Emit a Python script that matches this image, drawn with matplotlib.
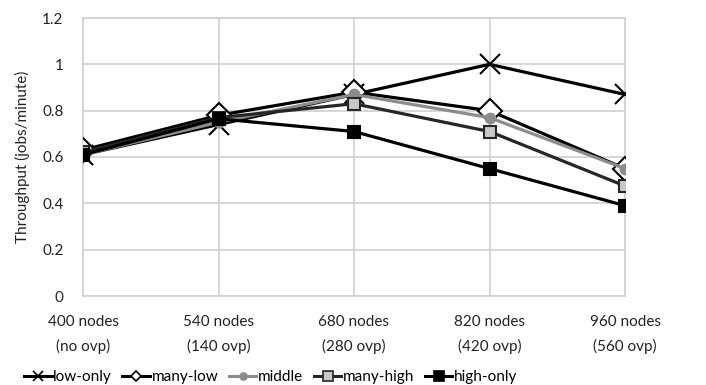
import matplotlib
matplotlib.use("Agg")
import matplotlib.pyplot as plt
from matplotlib.lines import Line2D

plt.rcParams['font.family'] = ['Lato', 'DejaVu Sans']

categories = ['400 nodes\n(no ovp)', '540 nodes\n(140 ovp)', '680 nodes\n(280 ovp)',
              '820 nodes\n(420 ovp)', '960 nodes\n(560 ovp)']
low_only = [0.61, 0.74, 0.87, 1.00, 0.87]
many_low = [0.63, 0.78, 0.88, 0.80, 0.55]
middle = [0.61, 0.75, 0.87, 0.77, 0.55]
many_high = [0.62, 0.77, 0.83, 0.71, 0.475]
high_only = [0.61, 0.765, 0.71, 0.55, 0.39]

x = range(len(categories))

fig = plt.figure(figsize=(7.06, 3.85), dpi=100)
ax = fig.add_axes([83/706, 89/385, 542/706, 278/385])

# series: (name, values, line color, marker, size, face, edge, legend marker size)
series = [
    ('low-only', low_only, 'black', 'x', 15, 'black', 'black', 7),
    ('many-low', many_low, 'black', 'D', 12, 'white', 'black', 5),
    ('middle', middle, '#8c8c8c', 'o', 7, '#8c8c8c', '#8c8c8c', 5),
    ('many-high', many_high, '#262626', 's', 9, '#c8c8c8', '#262626', 7),
    ('high-only', high_only, 'black', 's', 9, 'black', 'black', 7),
]

for name, vals, col, mk, ms, fc, ec, lms in series:
    ax.plot(x, vals, color=col, lw=2.3, marker=mk, markersize=ms,
            markerfacecolor=fc, markeredgecolor=ec, markeredgewidth=1.5,
            zorder=3)

ax.set_xlim(0, 4)
ax.set_ylim(0, 1.2)
ax.set_yticks([0, 0.2, 0.4, 0.6, 0.8, 1.0, 1.2])
ax.set_yticklabels(['0', '0.2', '0.4', '0.6', '0.8', '1', '1.2'])
ax.set_xticks(list(x))
ax.set_xticklabels(categories, linespacing=1.75)
ax.grid(True, color='#d0d0d0', lw=1.2)
ax.set_axisbelow(True)
for s in ax.spines.values():
    s.set_color('#d0d0d0')
    s.set_linewidth(1.2)
ax.tick_params(length=0, labelsize=11, colors='#222222')
ax.tick_params(axis='y', pad=14)
ax.tick_params(axis='x', pad=14)
ax.set_ylabel('Throughput (jobs/minute)', fontsize=11, color='#222222', labelpad=9)

handles = [Line2D([], [], color=col, lw=2.2, marker=mk, markersize=lms,
                  markerfacecolor=fc, markeredgecolor=ec, markeredgewidth=1.2)
           for name, vals, col, mk, ms, fc, ec, lms in series]
labels = [s[0] for s in series]
fig.legend(handles, labels, loc='center left', bbox_to_anchor=(24/706, 1 - 377/385),
           ncol=5, frameon=False, fontsize=11, handlelength=1.8, handletextpad=0.1,
           columnspacing=0.7, borderaxespad=0, borderpad=0)

fig.savefig('out.png', dpi=100)
